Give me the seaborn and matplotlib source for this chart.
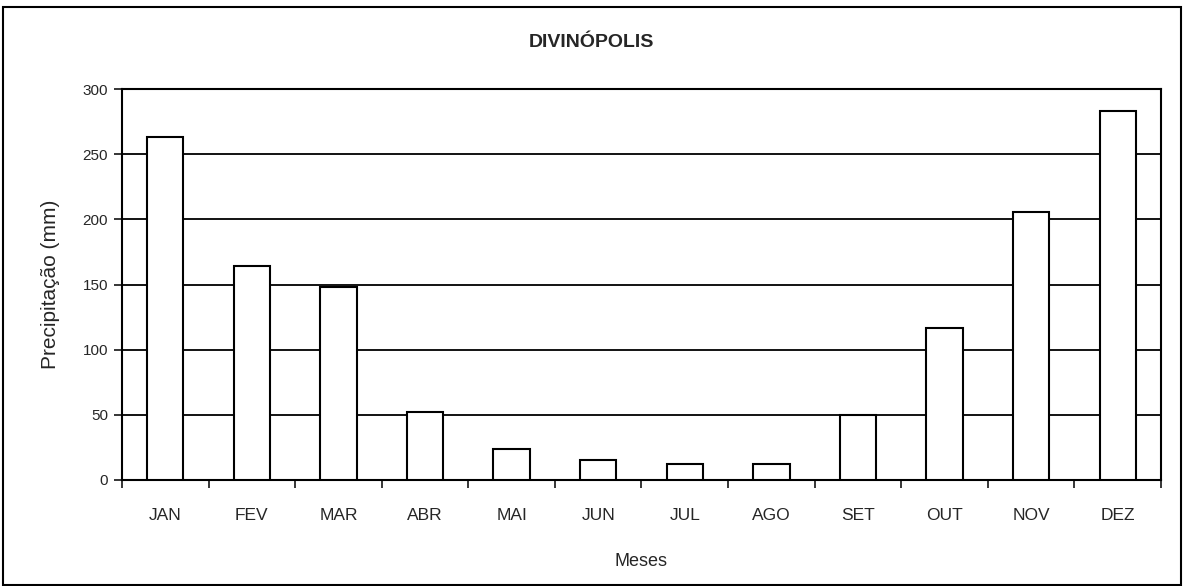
import matplotlib
matplotlib.use("Agg")
import matplotlib.pyplot as plt
from matplotlib.patches import Rectangle
import seaborn as sns
import pandas as pd

# monthly rainfall
meses = ["JAN", "FEV", "MAR", "ABR", "MAI", "JUN", "JUL", "AGO", "SET", "OUT", "NOV", "DEZ"]
precipitacao = [263, 164, 148, 52, 24, 15, 12, 12, 50, 117, 206, 283]
y_ticks = [0, 50, 100, 150, 200, 250, 300]

df = pd.DataFrame({"mes": meses, "prec": precipitacao})

sns.set_style("white")
plt.rcParams["font.family"] = ["Liberation Sans", "DejaVu Sans"]

fig = plt.figure(figsize=(11.83, 5.86), dpi=100)
ax = fig.add_axes([0.1031, 0.1809, 0.8783, 0.6672])

sns.barplot(data=df, x="mes", y="prec", color="white", edgecolor="black",
            linewidth=1.5, width=0.42, saturation=1, ax=ax, zorder=3)

ax.set_ylim(0, 300)
ax.set_xlim(-0.5, len(meses) - 0.5)
ax.set_yticks(y_ticks)
ax.yaxis.grid(True, color="black", linewidth=1.3, zorder=0)
ax.set_axisbelow(True)

for s in ax.spines.values():
    s.set_color("black")
    s.set_linewidth(1.5)

ax.tick_params(axis="y", direction="out", length=6, width=1.3, labelsize=11, pad=4, left=True)
ax.tick_params(axis="x", which="major", length=0, labelsize=12.5, pad=20)
ax.set_xticks([i - 0.5 for i in range(len(meses) + 1)], minor=True)
ax.tick_params(axis="x", which="minor", direction="out", length=6, width=1.3, bottom=True)

ax.set_xlabel("Meses", fontsize=13, labelpad=22)
ax.set_ylabel("Precipitação (mm)", fontsize=15, labelpad=16)
fig.text(0.5, 0.928, "DIVINÓPOLIS", ha="center", va="center",
         fontsize=14, fontweight="bold")

# outer frame around the whole chart
fig.patches.append(Rectangle((3 / 1183, 1 / 586), 1178 / 1183, 578 / 586,
                             transform=fig.transFigure, fill=False,
                             edgecolor="black", linewidth=1.5))

fig.savefig("out.png", dpi=100)
